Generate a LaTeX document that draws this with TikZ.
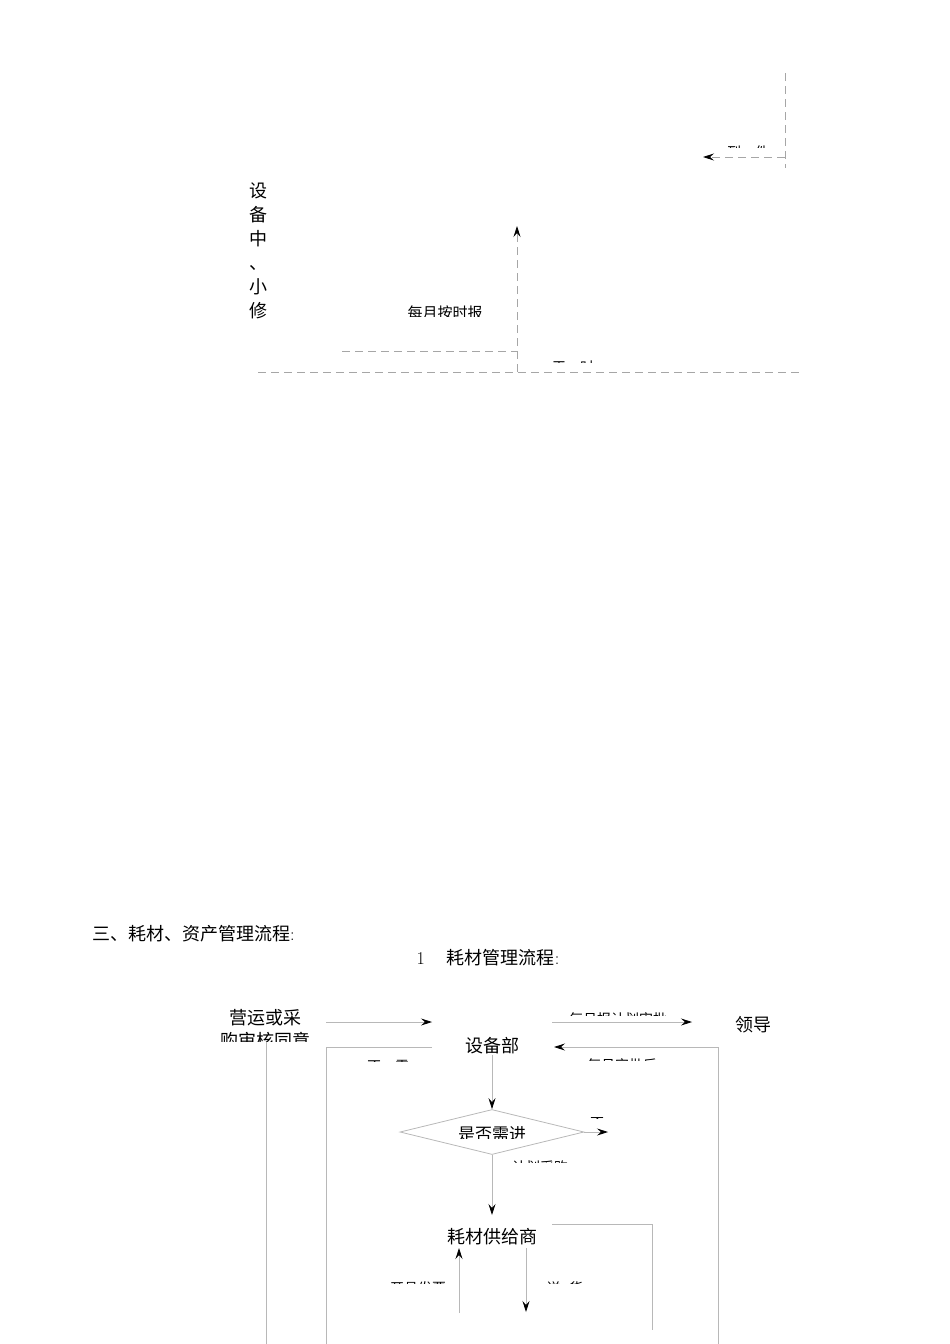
\documentclass[tikz,border=0pt]{standalone}
\usepackage{fontspec}
\newfontfamily\cjk{Noto Sans CJK SC}
\usetikzlibrary{arrows.meta,shapes.geometric}

\begin{document}
\begin{tikzpicture}[x=1pt, y=-1pt,
    line/.style={draw=black!28, line width=0.8pt},
    dline/.style={draw=black!35, line width=0.8pt, dash pattern=on 8pt off 5pt},
    tip/.style={-{Stealth[black, length=11pt, width=7pt, inset=4pt]}},
    txt/.style={font=\cjk\fontsize{18}{22}\selectfont, inner sep=0pt},
    small/.style={font=\cjk\fontsize{14}{16}\selectfont, inner sep=0pt}
]
\useasboundingbox (0,0) rectangle (950,1344);

% upper part, dashed
\coordinate (rtop) at (785,73);
\coordinate (rbot) at (785,168);
\coordinate (rmid) at (785,157);
\coordinate (rend) at (703,157);
\draw[dline] (rtop) -- (rbot);
\draw[dline, tip] (rmid) -- (rend);
\begin{scope}
    \clip (700,140) rectangle (800,147);
    \node[small] (part) at (748,152) {到\hspace{1em}件};
\end{scope}

\node[txt, align=center, font=\cjk\fontsize{18}{24}\selectfont] (repair) at (258,251) {设\\备\\中\\、\\小\\修};

\coordinate (base) at (517,372);
\coordinate (up) at (517,226);
\draw[dline, tip] (base) -- (up);
\coordinate (mleft) at (342,351);
\coordinate (mjoin) at (517,351);
\draw[dline] (mleft) -- (mjoin);
\coordinate (bl) at (258,372);
\coordinate (br) at (803,372);
\draw[dline] (bl) -- (br);
\begin{scope}
    \clip (380,300) rectangle (500,316);
    \node[small, font=\cjk\fontsize{15}{17}\selectfont] (month) at (445,313) {每月按时报};
\end{scope}
\begin{scope}
    \clip (540,350) rectangle (610,362);
    \node[small] (usual) at (573,367) {平\hspace{1em}时};
\end{scope}

% headings
\node[txt, anchor=west] (title) at (92,934) {三、耗材、资产管理流程\rmfamily :};
\node[anchor=west, font=\fontsize{18}{22}\selectfont] (sub) at (413,958) {1\hspace{22pt}{\cjk 耗材管理流程}:};

% flow nodes
\node[txt] (apply) at (265,1018) {营运或采};
\begin{scope}
    \clip (200,1025) rectangle (330,1041);
    \node[txt] (apply2) at (265,1041) {购审核同意};
\end{scope}
\node[txt] (dept) at (492,1046) {设备部};
\node[txt] (lead) at (753,1025) {领导};
\node[diamond, draw=black!28, line width=0.8pt, minimum width=184pt, minimum height=45pt, aspect=4, inner sep=0pt] (ask) at (492,1132) {};
\begin{scope}
    \clip (420,1115) rectangle (570,1138);
    \node[txt, font=\cjk\fontsize{17}{20}\selectfont] (askt) at (492,1134) {是否需进};
\end{scope}
\node[txt] (supp) at (492,1237) {耗材供给商};

% connectors
\coordinate (a1) at (326,1022);
\coordinate (a2) at (432,1022);
\draw[line, tip] (a1) -- (a2);
\coordinate (b1) at (552,1022);
\coordinate (b2) at (692,1022);
\draw[line, tip] (b1) -- (b2);
\coordinate (c1) at (718,1047);
\coordinate (c2) at (554,1047);
\coordinate (c3) at (718,1344);
\draw[line, tip] (c1) -- (c2);
\draw[line] (c1) -- (c3);
\coordinate (d1) at (432,1047);
\coordinate (d2) at (326,1047);
\coordinate (d3) at (326,1344);
\draw[line] (d1) -- (d2) -- (d3);
\coordinate (e1) at (266,1042);
\coordinate (e2) at (266,1344);
\draw[line] (e1) -- (e2);
\draw[line, tip] (dept.south) -- (ask.north);
\coordinate (no) at (608,1132);
\draw[line, tip] (ask.east) -- (no);
\coordinate (f1) at (492,1215);
\draw[line, tip] (ask.south) -- (f1);
\coordinate (g1) at (552,1224);
\coordinate (g2) at (652,1224);
\coordinate (g3) at (652,1330);
\draw[line] (g1) -- (g2) -- (g3);
\coordinate (h1) at (459,1313);
\coordinate (h2) at (459,1248);
\draw[line, tip] (h1) -- (h2);
\coordinate (k1) at (526,1248);
\coordinate (k2) at (526,1312);
\draw[line, tip] (k1) -- (k2);

% clipped labels
\begin{scope}
    \clip (560,1000) rectangle (680,1015);
    \node[small] (plan) at (618,1019) {每月报计划审批};
\end{scope}
\begin{scope}
    \clip (575,1050) rectangle (670,1060);
    \node[small] (back) at (622,1065) {每月审批后};
\end{scope}
\begin{scope}
    \clip (360,1050) rectangle (420,1061);
    \node[small] (noneed) at (388,1066) {不\hspace{1em}需};
\end{scope}
\begin{scope}
    \clip (580,1105) rectangle (615,1118);
    \node[small] (nob) at (597,1124) {否};
\end{scope}
\begin{scope}
    \clip (500,1150) rectangle (580,1162);
    \node[small] (buy) at (540,1167) {计划采购};
\end{scope}
\begin{scope}
    \clip (375,1270) rectangle (460,1283);
    \node[small] (bill) at (418,1288) {开具发票};
\end{scope}
\begin{scope}
    \clip (535,1270) rectangle (600,1283);
    \node[small] (send) at (565,1288) {送\hspace{0.6em}货};
\end{scope}
\end{tikzpicture}
\end{document}
